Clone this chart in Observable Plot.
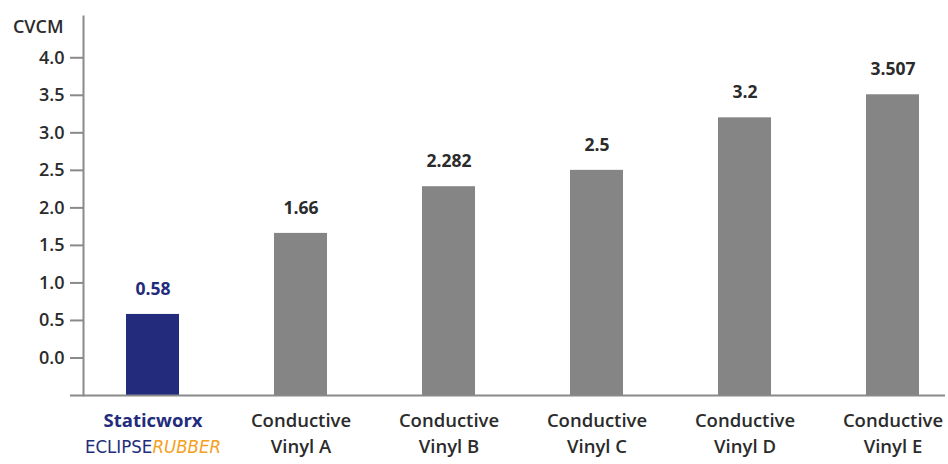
<!DOCTYPE html>
<html>
<head>
<meta charset="utf-8">
<script src="https://cdn.jsdelivr.net/npm/d3@7"></script>
<script src="https://cdn.jsdelivr.net/npm/@observablehq/plot@0.6"></script>
<style>
  body { margin: 0; background: #fff; }
  #chart svg { display: block; }
</style>
</head>
<body>
<div id="chart"></div>
<script>
const categories = ["Staticworx ECLIPSE RUBBER", "Conductive Vinyl A", "Conductive Vinyl B", "Conductive Vinyl C", "Conductive Vinyl D", "Conductive Vinyl E"];
const tickLabels = ["Staticworx\nECLIPSERUBBER", "Conductive\nVinyl A", "Conductive\nVinyl B", "Conductive\nVinyl C", "Conductive\nVinyl D", "Conductive\nVinyl E"];
const values = [0.58, 1.66, 2.282, 2.5, 3.2, 3.507];
const valueLabels = ["0.58", "1.66", "2.282", "2.5", "3.2", "3.507"];
const yTicks = [0, 0.5, 1, 1.5, 2, 2.5, 3, 3.5, 4];
const yLabel = "CVCM";

const NAVY = "#232c7c";
const GRAY = "#858585";
const ORANGE = "#f5a021";
const TEXT = "#2b2b2b";
const AXIS = "#8a8a8a";

const data = categories.map((c, i) => ({name: c, value: values[i], label: valueLabels[i], highlight: i === 0}));
const labelMap = new Map(categories.map((c, i) => [c, tickLabels[i]]));

const chart = Plot.plot({
  width: 948,
  height: 464,
  marginTop: 16,
  marginBottom: 69,
  marginLeft: 83,
  marginRight: 3,
  style: {fontFamily: "'Open Sans', sans-serif", fontWeight: 600, color: TEXT, background: "#fff"},
  x: {domain: categories, paddingInner: 0.642, paddingOuter: 0.229, align: 0.625, axis: null},
  y: {domain: [-0.5, 4.55], axis: null},
  marks: [
    Plot.barY(data, {x: "name", y1: -0.5, y2: "value", fill: d => d.highlight ? NAVY : GRAY}),
    Plot.text(data, {x: "name", y: "value", text: "label", dy: -25, fill: d => d.highlight ? NAVY : TEXT, fontSize: 17.5, fontWeight: 700}),
    Plot.axisY({ticks: yTicks, tickFormat: d3.format(".1f"), tickSize: 13, tickPadding: 6, stroke: AXIS, strokeWidth: 2, fill: TEXT, fontSize: 18, label: null}),
    Plot.axisX({tickSize: 0, tickPadding: 13, tickFormat: d => labelMap.get(d), fontSize: 18.5, fill: TEXT, lineHeight: 1.4, label: null}),
    Plot.frame({anchor: "left", stroke: AXIS, strokeWidth: 2}),
    Plot.ruleY([-0.5], {insetLeft: -13, stroke: AXIS, strokeWidth: 2}),
    Plot.text([yLabel], {frameAnchor: "top-left", dx: -20, dy: 4, textAnchor: "end", fontSize: 18, fill: TEXT})
  ]
});

document.getElementById("chart").appendChild(chart);

// Style the first category label (brand name with mixed colours)
const svg = d3.select(chart);
const xLabels = svg.selectAll('g[aria-label="x-axis tick label"] text');
const first = d3.select(xLabels.nodes()[0]);
const tspans = first.selectAll("tspan").nodes();
if (tspans.length === 2) {
  d3.select(tspans[0]).attr("fill", NAVY).attr("font-weight", 700);
  const second = d3.select(tspans[1]);
  second.text(null);
  second.append("tspan").text("ECLIPSE").attr("fill", NAVY)
    .attr("font-family", "'Liberation Sans Narrow', 'DejaVu Sans Condensed', sans-serif").attr("font-weight", 400);
  second.append("tspan").text("RUBBER").attr("fill", ORANGE).attr("font-style", "italic")
    .attr("font-family", "'Liberation Sans Narrow', 'DejaVu Sans Condensed', sans-serif").attr("font-weight", 400);
}
</script>
</body>
</html>
